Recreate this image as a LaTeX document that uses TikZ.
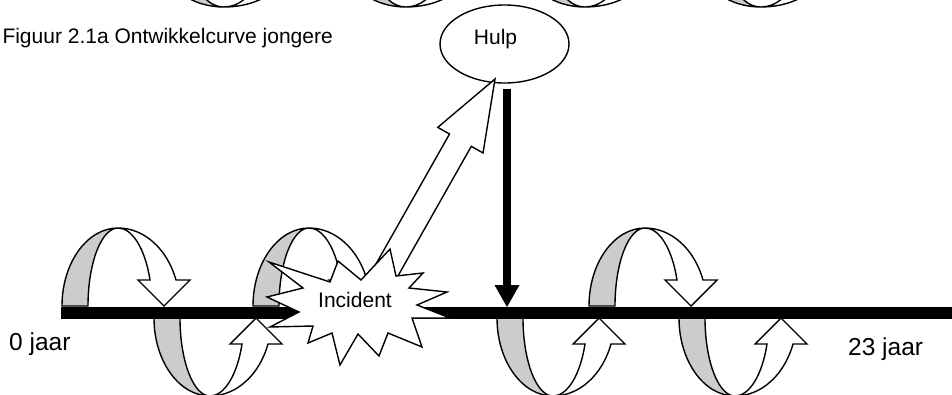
\documentclass[tikz,border=0pt]{standalone}
\usepackage{fontspec}
\setmainfont{Liberation Sans}
\usetikzlibrary{calc,shapes.geometric}
\definecolor{bandgray}{RGB}{204,204,204}
\tikzset{
  outl/.style={draw=black, line width=1.4pt},
  backband/.style={outl, fill=bandgray},
  frontband/.style={outl, fill=white},
  loopdown/.pic={
    \path[backband] (0,0) arc[start angle=180,end angle=270,x radius=56,y radius=78]
      arc[start angle=270,end angle=180,x radius=30,y radius=78] -- cycle;
    \path[frontband] (56,-78) arc[start angle=270,end angle=340.53,x radius=61.5,y radius=78]
      -- (128,-26) -- (102,0) -- (76,-26) -- (88,-26)
      arc[start angle=340.53,end angle=270,x radius=34,y radius=78] -- cycle;
  },
  loopup/.pic={
    \path[backband] (0,0) arc[start angle=180,end angle=90,x radius=56,y radius=78]
      arc[start angle=90,end angle=180,x radius=30,y radius=78] -- cycle;
    \path[frontband] (56,78) arc[start angle=90,end angle=19.47,x radius=61.5,y radius=78]
      -- (128,26) -- (102,0) -- (76,26) -- (88,26)
      arc[start angle=19.47,end angle=90,x radius=34,y radius=78] -- cycle;
  },
  axisbar/.style={line width=12pt, draw=black},
  dropbar/.style={line width=8pt, draw=black},
  txt/.style={inner sep=0pt, font=\fontsize{21}{25}\selectfont},
  agetxt/.style={inner sep=0pt, font=\fontsize{24.5}{29}\selectfont},
  hulpbox/.style={ellipse, outl, fill=white, minimum width=129pt, minimum height=78pt, inner sep=0pt},
}
\begin{document}
\begin{tikzpicture}[x=1pt,y=-1pt]
\useasboundingbox (0,0) rectangle (952,394);
\clip (0,0) rectangle (952,394);

% loops of the figure above, cut off at the top edge
\foreach \px in {168,350,529,705} { \pic[yscale=0.5] at (\px,-32) {loopup}; }

% development loops along the time axis
\pic at (62,306) {loopdown};
\pic at (154,318) {loopup};
\pic at (253,306) {loopdown};
\pic at (497,318) {loopup};
\pic at (589,306) {loopdown};
\pic at (679,318) {loopup};

% time axis (runs under the burst)
\coordinate (axisL) at (61,313);
\coordinate (axisR) at (960,313);
\coordinate (burst) at (358,313);
\draw[axisbar] (axisL) -- (burst);
\draw[axisbar] (axisR) -- (burst);

% Hulp
\node[hulpbox] (hulp) at (504.5,44) {};
\node[txt, anchor=base] (hulptext) at (495.5,44) {Hulp};

% help arrow back onto the axis
\coordinate (dropstart) at (507,89);
\coordinate (droptip) at (507,307);
\draw[dropbar] (dropstart) -- ($(droptip)+(0,-21)$);
\fill (droptip) -- ++(-12.5,-22) -- ++(25,0) -- cycle;

% block arrow from incident to Hulp
\coordinate (hbtail) at (369.8,300.3);
\coordinate (hbtip) at (495,79);
\coordinate (hbneck) at ($(hbtail)!184pt!(hbtip)$);
\path[outl, fill=white]
  ($(hbtail)!12.5pt!90:(hbtip)$) -- ($(hbneck)!12.5pt!90:(hbtip)$)
  -- ($(hbneck)!26pt!90:(hbtip)$) -- (hbtip)
  -- ($(hbneck)!26pt!-90:(hbtip)$) -- ($(hbneck)!12.5pt!-90:(hbtip)$)
  -- ($(hbtail)!12.5pt!-90:(hbtip)$) -- cycle;

% incident burst
\path[outl, fill=white] (269,262) -- (330,282) -- (338,261) -- (361,280) -- (390,249)
  -- (396,276) -- (423,273) -- (409,288) -- (447,292) -- (417,305) -- (450,318)
  -- (412,318) -- (422,347) -- (388,333) -- (379,356) -- (358,334) -- (340,365)
  -- (332,333) -- (308,343) -- (313,326) -- (270,327) -- (299,312) -- (267,297)
  -- (303,288) -- cycle;
\node[txt, anchor=base] (incident) at (355,307) {Incident};

% texts
\node[txt, anchor=base west] (title) at (2.3,43) {Figuur 2.1a Ontwikkelcurve jongere};
\node[agetxt, anchor=base west] (age0) at (9,350) {0 jaar};
\node[agetxt, anchor=base west] (age23) at (848,355) {23 jaar};
\end{tikzpicture}
\end{document}
